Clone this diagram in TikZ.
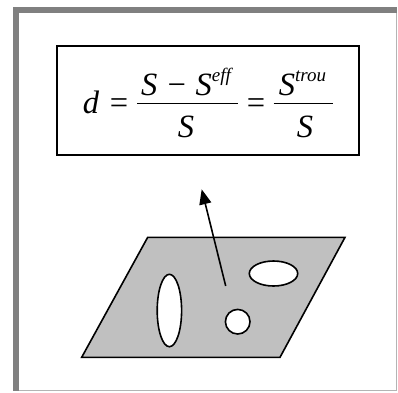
\documentclass[tikz,border=0pt]{standalone}
\usepackage{fontspec}
\setmainfont{Liberation Serif}
\usetikzlibrary{arrows.meta,shapes.geometric}
\definecolor{darkframe}{HTML}{808080}
\definecolor{lightframe}{HTML}{B4B4B4}
\definecolor{plate}{HTML}{C0C0C0}
\tikzset{
  big/.style={inner sep=0pt, anchor=base, font=\fontsize{32.5}{32}\selectfont},
  fracbar/.style={line width=1.4pt},
  hole/.style={draw=black, fill=white, line width=1.6pt},
}
\newcommand{\supx}[1]{\raisebox{13.5pt}{\fontsize{19}{19}\selectfont\itshape #1}}
\begin{document}
\begin{tikzpicture}[x=1pt,y=-1pt]
\useasboundingbox (0,0) rectangle (398,392);
% frame
\fill[white] (13,7) rectangle (398,392);
\fill[darkframe] (13,7) rectangle (397,13.3);
\fill[darkframe] (13,7) rectangle (19.3,391);
\fill[lightframe] (396.2,13.3) rectangle (397.4,391.4);
\fill[lightframe] (19.3,390.2) rectangle (397.4,391.4);
% formula box
\node[draw, line width=1.7pt, minimum width=302pt, minimum height=109pt, inner sep=0pt] (box) at (208,100.5) {};
\node[big] (d) at (91,113) {\itshape d};
\node[big] (eq1) at (119,113) {=};
\node[big] (num1) at (186,95) {\itshape S − S\supx{eff}};
\draw[fracbar] (137,103.5) -- (237.5,103.5);
\node[big] (den1) at (186,137) {\itshape S};
\node[big] (eq2) at (256,113) {=};
\node[big] (num2) at (302.5,95) {\itshape S\supx{trou}};
\draw[fracbar] (273.5,103.5) -- (333,103.5);
\node[big] (den2) at (305,137) {\itshape S};
% plate
\draw[fill=plate, line width=1.6pt, line join=miter] (147.7,237.3) -- (345,237.3) -- (280,357.3) -- (81.7,357.3) -- cycle;
\node[hole, ellipse, minimum width=24.4pt, minimum height=72.4pt, inner sep=0pt] (hole1) at (169.4,310.5) {};
\node[hole, ellipse, minimum width=48.4pt, minimum height=25pt, inner sep=0pt] (hole2) at (273.5,273.5) {};
\node[hole, circle, minimum size=24.6pt, inner sep=0pt] (hole3) at (237.7,321.7) {};
% arrow
\coordinate (tail) at (225.7,286);
\coordinate (tip) at (201.7,189.3);
\draw[line width=1.6pt, -{Triangle[length=15pt,width=12pt]}] (tail) -- (tip);
\end{tikzpicture}
\end{document}
